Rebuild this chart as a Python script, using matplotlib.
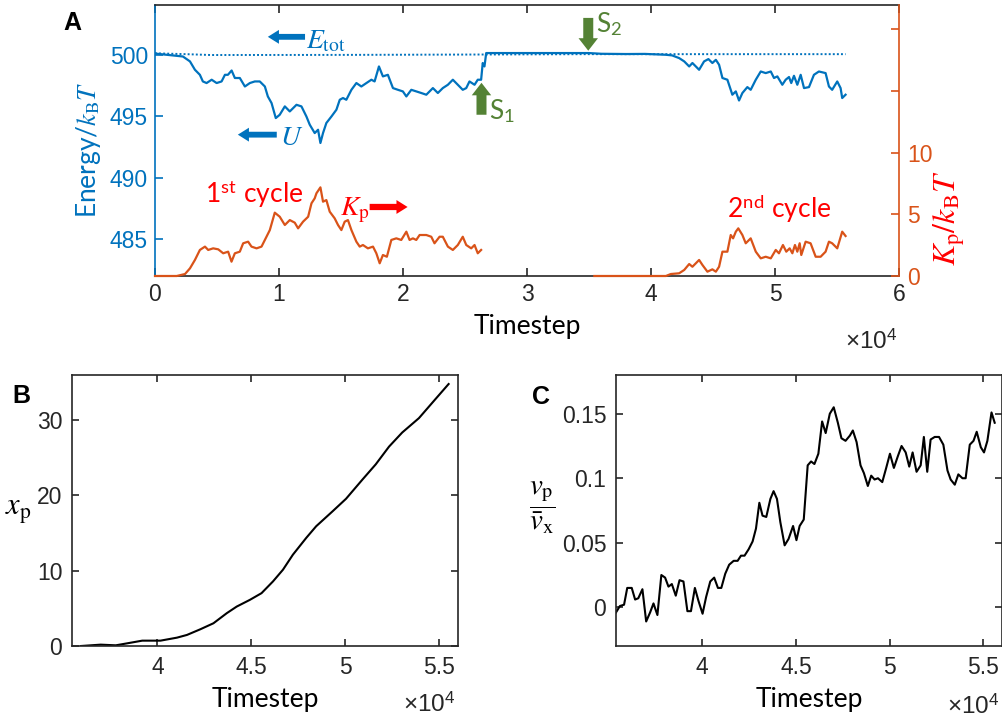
import matplotlib
matplotlib.use("Agg")
import matplotlib.pyplot as plt

plt.rcParams['font.family'] = ['Liberation Sans', 'DejaVu Sans']
plt.rcParams['mathtext.fontset'] = 'stix'

# ---------------- data (time in units of 1e4 timesteps) ----------------
# Panel A: potential energy U (left axis)
tU = [0, 0.225, 0.282, 0.322, 0.362, 0.386, 0.416, 0.457, 0.497, 0.537,
      0.564, 0.588, 0.618, 0.644, 0.684, 0.725, 0.765, 0.805, 0.845, 0.886,
      0.910, 0.940, 0.974, 1.006, 1.047, 1.087, 1.141, 1.181, 1.221, 1.248,
      1.288, 1.315, 1.334, 1.355, 1.382, 1.423, 1.463, 1.490, 1.516, 1.543,
      1.584, 1.624, 1.664, 1.705, 1.745, 1.771, 1.806, 1.838, 1.878, 1.919,
      1.959, 1.999, 2.027, 2.067, 2.107, 2.147, 2.188, 2.241, 2.281, 2.321,
      2.362, 2.402, 2.442, 2.482, 2.510, 2.536, 2.577, 2.603, 2.630, 2.643,
      2.657, 2.671,
      3.50, 3.60, 3.80, 3.95, 4.05, 4.12, 4.17,
      4.227, 4.268, 4.308, 4.334, 4.388, 4.428, 4.463, 4.495, 4.523, 4.549,
      4.576, 4.616, 4.643, 4.656, 4.684, 4.710, 4.737, 4.777, 4.804, 4.845,
      4.885, 4.925, 4.966, 4.992, 5.019, 5.059, 5.086, 5.113, 5.131, 5.153,
      5.180, 5.207, 5.234, 5.274, 5.314, 5.354, 5.408, 5.435, 5.461, 5.502,
      5.529, 5.542, 5.569]
U = [500.10, 499.86, 499.46, 498.78, 498.37, 497.83, 497.70, 497.97, 497.70, 497.83,
     498.37, 498.37, 498.72, 498.11, 498.11, 497.42, 497.70, 497.83, 497.83, 497.42,
     496.61, 496.07, 494.85, 495.12, 495.80, 495.39, 495.93, 495.80, 494.98, 494.31,
     493.63, 493.90, 492.82, 493.63, 494.45, 494.98, 495.53, 496.34, 496.48, 496.34,
     497.15, 497.70, 497.42, 497.70, 497.97, 497.83, 499.05, 498.24, 498.37, 497.29,
     497.15, 497.02, 496.61, 497.15, 497.02, 496.89, 496.75, 497.29, 496.89, 497.29,
     497.56, 497.97, 497.56, 497.15, 497.29, 497.83, 497.56, 497.97, 497.97, 499.33,
     499.05, 500.14,
     500.14, 500.08, 500.06, 500.07, 500.03, 500.00, 499.95,
     499.73, 499.46, 499.05, 499.33, 498.78, 499.46, 499.65, 499.33, 499.59, 499.19,
     498.11, 497.97, 497.15, 496.75, 497.02, 496.28, 496.89, 497.37, 497.15, 497.97,
     498.64, 498.51, 498.64, 498.11, 498.24, 497.56, 497.97, 498.19, 497.70, 498.29,
     497.56, 498.37, 497.29, 497.37, 498.37, 498.64, 498.51, 497.42, 497.15, 497.83,
     497.29, 496.48, 496.75]

# Panel A: total energy E_tot (left axis, dotted)
tE = [0, 0.25, 0.45, 1.5, 2.6, 3.5, 4.5, 5.569]
E = [500.12, 500.05, 499.98, 499.99, 500.02, 500.05, 500.05, 500.05]

# Panel A: kinetic energy K_p (right axis), two cycles
tK1 = [0, 0.175, 0.242, 0.282, 0.322, 0.362, 0.403, 0.429, 0.469, 0.510,
       0.550, 0.590, 0.617, 0.644, 0.684, 0.711, 0.751, 0.778, 0.819, 0.859,
       0.886, 0.926, 0.966, 1.006, 1.047, 1.087, 1.127, 1.154, 1.194, 1.235,
       1.262, 1.288, 1.302, 1.334, 1.355, 1.382, 1.409, 1.449, 1.476, 1.503,
       1.530, 1.556, 1.584, 1.624, 1.651, 1.677, 1.717, 1.758, 1.785, 1.812,
       1.838, 1.870, 1.906, 1.946, 1.986, 2.027, 2.053, 2.080, 2.107, 2.134,
       2.188, 2.228, 2.254, 2.295, 2.321, 2.362, 2.402, 2.442, 2.482, 2.510,
       2.550, 2.577, 2.603, 2.630]
K1 = [0, 0, 0.16, 0.62, 1.30, 2.11, 2.38, 2.11, 2.24, 2.16,
      1.84, 1.97, 1.16, 1.84, 1.97, 2.65, 2.78, 2.38, 2.24, 2.38,
      2.92, 3.72, 5.13, 4.80, 4.13, 4.53, 4.32, 3.86, 4.40, 4.80,
      5.89, 6.29, 6.70, 7.18, 6.02, 6.15, 5.21, 4.67, 4.13, 3.72,
      4.40, 4.53, 3.72, 2.78, 2.38, 2.51, 2.24, 2.38, 1.84, 1.03,
      1.70, 1.56, 2.92, 3.05, 2.92, 3.59, 2.92, 3.05, 2.92, 3.32,
      3.32, 3.18, 2.65, 3.18, 3.18, 2.38, 2.11, 2.51, 3.18, 2.51,
      2.24, 2.51, 1.84, 2.11]
tK2 = [3.543, 4.12, 4.160, 4.227, 4.268, 4.308, 4.334, 4.388, 4.415, 4.455,
       4.495, 4.523, 4.549, 4.576, 4.616, 4.643, 4.662, 4.684, 4.704, 4.737,
       4.764, 4.804, 4.845, 4.885, 4.925, 4.966, 5.006, 5.032, 5.064, 5.091,
       5.118, 5.140, 5.161, 5.180, 5.199, 5.212, 5.247, 5.287, 5.328, 5.368,
       5.408, 5.435, 5.461, 5.502, 5.542, 5.569]
K2 = [0, 0, 0.16, 0.22, 0.49, 0.97, 0.75, 1.30, 0.89, 0.35,
      0.54, 0.35, 0.75, 1.97, 1.97, 3.32, 3.05, 3.59, 3.86, 3.32,
      2.65, 3.05, 1.97, 1.43, 1.56, 1.43, 2.11, 1.84, 2.51, 1.97,
      2.24, 1.84, 2.51, 1.97, 2.65, 1.70, 2.78, 2.65, 1.56, 1.56,
      1.97, 2.78, 2.65, 2.24, 3.59, 3.24]

# Panel B: x_p
tB = [3.593, 3.698, 3.778, 3.84, 3.919, 4.016, 4.104, 4.157, 4.228, 4.298,
      4.369, 4.422, 4.492, 4.554, 4.615, 4.668, 4.721, 4.792, 4.845, 4.933,
      5.004, 5.092, 5.162, 5.233, 5.303, 5.392, 5.480, 5.550]
xp = [0, 0.18, 0.09, 0.36, 0.71, 0.71, 1.11, 1.47, 2.22, 3.02,
      4.36, 5.24, 6.13, 7.02, 8.58, 10.13, 12.13, 14.36, 15.91, 17.91,
      19.56, 22.13, 24.13, 26.49, 28.36, 30.27, 32.8, 34.8]

# Panel C: v_p / mean v_x
tC = [3.540, 3.561, 3.583, 3.600, 3.624, 3.642, 3.659, 3.681, 3.701, 3.722,
      3.740, 3.761, 3.782, 3.802, 3.820, 3.838, 3.859, 3.879, 3.900, 3.921,
      3.940, 3.961, 3.980, 4.002, 4.021, 4.043, 4.064, 4.084, 4.102, 4.123,
      4.144, 4.168, 4.189, 4.207, 4.226, 4.248, 4.269, 4.287, 4.305, 4.322,
      4.342, 4.364, 4.381, 4.399, 4.417, 4.440, 4.461, 4.485, 4.503, 4.520,
      4.542, 4.563, 4.581, 4.599, 4.620, 4.640, 4.659, 4.681, 4.702, 4.724,
      4.743, 4.765, 4.788, 4.804, 4.824, 4.845, 4.863, 4.884, 4.902, 4.920,
      4.938, 4.961, 4.982, 5.002, 5.023, 5.044, 5.064, 5.086, 5.105, 5.123,
      5.144, 5.166, 5.183, 5.201, 5.219, 5.241, 5.264, 5.287, 5.309, 5.326,
      5.348, 5.367, 5.389, 5.406, 5.428, 5.448, 5.465, 5.487, 5.504, 5.522,
      5.544, 5.561]
vp = [-0.004, 0.001, 0.002, 0.015, 0.015, 0.006, 0.007, 0.014, -0.011, -0.004,
      0.003, -0.006, 0.025, 0.023, 0.016, 0.018, 0.009, 0.021, 0.020, -0.003,
      -0.003, 0.015, 0.005, -0.005, 0.008, 0.020, 0.023, 0.015, 0.015, 0.026,
      0.033, 0.036, 0.036, 0.040, 0.040, 0.045, 0.051, 0.061, 0.081, 0.071,
      0.070, 0.084, 0.090, 0.084, 0.066, 0.048, 0.053, 0.063, 0.052, 0.063,
      0.068, 0.110, 0.113, 0.111, 0.119, 0.144, 0.135, 0.150, 0.155, 0.143,
      0.131, 0.129, 0.133, 0.137, 0.128, 0.110, 0.104, 0.094, 0.102, 0.099,
      0.100, 0.097, 0.108, 0.119, 0.108, 0.117, 0.125, 0.120, 0.109, 0.120,
      0.105, 0.110, 0.132, 0.105, 0.130, 0.132, 0.132, 0.126, 0.106, 0.099,
      0.095, 0.103, 0.100, 0.100, 0.126, 0.129, 0.136, 0.124, 0.120, 0.129,
      0.151, 0.143]

xticksA = [0, 1, 2, 3, 4, 5, 6]
xticksBC = [4, 4.5, 5, 5.5]
xticklabelsBC = ['4', '4.5', '5', '5.5']

# ---------------- styling ----------------
BLUE = '#0072BD'
ORANGE = '#D95319'
GREEN = '#548235'
RED = '#FF0000'
DARK = '#262626'
LBL = ['Lato', 'DejaVu Sans']
TICK_FS = 16.5
LBL_FS = 19
EXP_FS = 17.5

W, H = 1003, 721
fig = plt.figure(figsize=(W / 100, H / 100), dpi=100)


def rect(l, t, r, b):
    return [l / W, 1 - b / H, (r - l) / W, (b - t) / H]


def arrow(ax, tip, tail, color, hl, hw, tw):
    ax.annotate('', xy=tip, xytext=tail,
                arrowprops=dict(arrowstyle=f'simple,head_length={hl},head_width={hw},tail_width={tw}',
                                color=color, lw=0, shrinkA=0, shrinkB=0, mutation_scale=10))


# ---------------- Panel A ----------------
axA = fig.add_axes(rect(155, 5, 899, 276))
axK = axA.twinx()
axA.plot(tE, E, color=BLUE, lw=1.4, ls=(0, (1, 1.1)))
axA.plot(tU, U, color=BLUE, lw=1.6)
axK.plot(tK1, K1, color=ORANGE, lw=1.6, clip_on=False)
axK.plot(tK2, K2, color=ORANGE, lw=1.6, clip_on=False)

axA.set_xlim(0, 6)
axA.set_ylim(482, 504.05)
axK.set_ylim(0, 21.95)
axA.set_xticks(xticksA)
axA.set_yticks([485, 490, 495, 500])
axK.set_yticks([0, 5, 10, 15, 20])
axK.set_yticklabels(['0', '5', '10', '', ''])

for s in ['top', 'bottom']:
    axA.spines[s].set_color(DARK)
    axK.spines[s].set_visible(False)
axA.spines['left'].set_color(BLUE)
axA.spines['right'].set_visible(False)
axK.spines['left'].set_visible(False)
axK.spines['right'].set_color(ORANGE)
for sp in list(axA.spines.values()) + list(axK.spines.values()):
    sp.set_linewidth(1.2)

axA.tick_params(axis='x', direction='in', top=True, length=6, width=1.2,
                color=DARK, labelcolor=DARK, labelsize=TICK_FS, pad=5)
axA.tick_params(axis='y', direction='in', length=6, width=1.2,
                color=BLUE, labelcolor=BLUE, labelsize=TICK_FS, pad=5)
axK.tick_params(axis='y', direction='in', length=6, width=1.2,
                color=ORANGE, labelcolor=ORANGE, labelsize=TICK_FS, pad=6)

axA.set_xlabel('Timestep', family=LBL, fontsize=LBL_FS, color='black', labelpad=6)
axA.set_ylabel(r'Energy/$k_\mathrm{B}T$', family=LBL, fontsize=LBL_FS, color=BLUE)
axA.yaxis.set_label_coords(-0.089, 0.465)
axA.yaxis.label.set_va('center')
axK.set_ylabel(r'$K_\mathrm{p}/k_\mathrm{B}T$', fontsize=23, color=RED)
axK.yaxis.set_label_coords(1.068, 0.212)
axK.yaxis.label.set_va('center')

# annotations
arrow(axA, (0.91, 501.46), (1.21, 501.46), BLUE, 0.8, 1.0, 0.42)
axA.text(1.221, 500.5, r'$E_\mathrm{tot}$', color=BLUE, fontsize=20, va='baseline')
arrow(axA, (0.668, 493.5), (0.982, 493.5), BLUE, 0.8, 1.0, 0.42)
axA.text(1.006, 492.68, r'$U$', color=BLUE, fontsize=20, va='baseline')
arrow(axA, (2.633, 497.72), (2.633, 495.12), GREEN, 0.9, 1.4, 0.72)
axA.text(2.697, 494.72, r'S$_\mathregular{1}$', color=GREEN, fontsize=LBL_FS, family=LBL, va='baseline')
arrow(axA, (3.494, 500.33), (3.494, 503.0), GREEN, 0.9, 1.4, 0.72)
axA.text(3.559, 501.79, r'S$_\mathregular{2}$', color=GREEN, fontsize=LBL_FS, family=LBL, va='baseline')

axK.text(0.403, 5.91, r'1$^\mathregular{st}$ cycle', color=RED, fontsize=LBL_FS, family=LBL, va='baseline')
axK.text(1.49, 4.94, r'$K_\mathrm{p}$', color=RED, fontsize=20, va='baseline')
arrow(axK, (2.037, 5.59), (1.731, 5.59), RED, 0.8, 1.0, 0.45)
axK.text(4.613, 4.70, r'2$^\mathregular{nd}$ cycle', color=RED, fontsize=LBL_FS, family=LBL, va='baseline')

fig.text(898 / W, 1 - 349 / H, r'×10$^\mathregular{4}$', fontsize=EXP_FS, color=DARK,
         ha='right', va='baseline')
fig.text(72 / W, 1 - 23 / H, 'A', fontsize=18, weight='bold', ha='center', va='center')


# ---------------- Panels B and C ----------------
def style_box(ax):
    for sp in ax.spines.values():
        sp.set_color(DARK)
        sp.set_linewidth(1.2)
    ax.tick_params(direction='in', top=True, right=True, length=5, width=1.2,
                   color=DARK, labelcolor=DARK, labelsize=TICK_FS, pad=7)
    ax.set_xticks(xticksBC)
    ax.set_xticklabels(xticklabelsBC)
    ax.set_xlabel('Timestep', family=LBL, fontsize=LBL_FS, labelpad=6)


axB = fig.add_axes(rect(72, 375, 458, 646))
axB.plot(tB, xp, color='black', lw=1.5)
axB.set_xlim(3.545, 5.6)
axB.set_ylim(0, 36)
axB.set_yticks([0, 10, 20, 30])
style_box(axB)
axB.set_ylabel(r'$x_\mathrm{p}$', fontsize=22, rotation=0)
axB.yaxis.set_label_coords(-0.14, 0.50)
axB.yaxis.label.set_va('center')
fig.text(456 / W, 1 - 712 / H, r'×10$^\mathregular{4}$', fontsize=EXP_FS, color=DARK,
         ha='right', va='baseline')
fig.text(21 / W, 1 - 396 / H, 'B', fontsize=18, weight='bold', ha='center', va='center')

axC = fig.add_axes(rect(616, 375, 1002, 646))
axC.plot(tC, vp, color='black', lw=1.5)
axC.set_xlim(3.54, 5.6)
axC.set_ylim(-0.03, 0.18)
axC.set_yticks([0, 0.05, 0.1, 0.15])
axC.set_yticklabels(['0', '0.05', '0.1', '0.15'])
style_box(axC)
axC.set_ylabel(r'$\dfrac{v_\mathrm{p}}{\bar{v}_\mathrm{x}}$', fontsize=21, rotation=0)
axC.yaxis.set_label_coords(-0.19, 0.51)
axC.yaxis.label.set_va('center')
fig.text(1000 / W, 1 - 714 / H, r'×10$^\mathregular{4}$', fontsize=EXP_FS, color=DARK,
         ha='right', va='baseline')
fig.text(541 / W, 1 - 397 / H, 'C', fontsize=18, weight='bold', ha='center', va='center')

fig.savefig('out.png', dpi=100)
